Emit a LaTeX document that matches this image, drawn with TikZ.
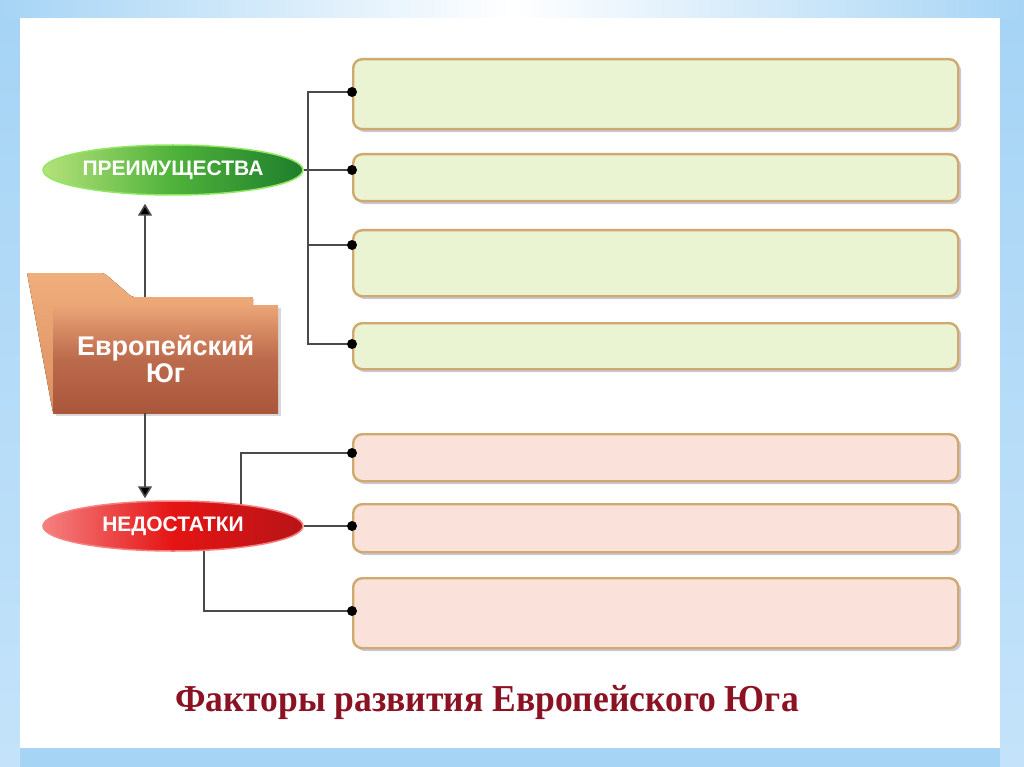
\documentclass[tikz,border=0pt]{standalone}
\usepackage{fontspec}
\setmainfont{Liberation Serif}
\setsansfont{Liberation Sans}
\usetikzlibrary{shapes.geometric,arrows.meta,shadows,calc}
\definecolor{frameblue}{HTML}{A6D4F5}
\definecolor{framelight}{HTML}{C4E3FA}
\definecolor{gfill}{HTML}{EAF3D2}
\definecolor{rfill}{HTML}{FAE1DA}
\definecolor{tan}{HTML}{CFA96E}
\definecolor{conn}{HTML}{4A4A4A}
\definecolor{titlered}{HTML}{8A1222}
\definecolor{gl}{HTML}{B4E27A}
\definecolor{gm}{HTML}{4FB23A}
\definecolor{gd}{HTML}{1E7E2C}
\definecolor{rl}{HTML}{F58080}
\definecolor{rm}{HTML}{E51414}
\definecolor{rd}{HTML}{B81418}
\definecolor{peach}{HTML}{F0AE7C}
\definecolor{peachd}{HTML}{DC8E5E}
\definecolor{brownl}{HTML}{EBA577}
\definecolor{brownm}{HTML}{BC6A4C}
\definecolor{brownd}{HTML}{A9563B}
\tikzset{
  box/.style={draw=tan, line width=2.4pt, rounded corners=9pt, anchor=north west,
    minimum width=605pt, inner sep=0pt,
    drop shadow={shadow xshift=3pt, shadow yshift=-3pt, opacity=0.35, fill=gray!80!blue}},
  gbox/.style={box, fill=gfill},
  rbox/.style={box, fill=rfill},
  oval/.style={ellipse, minimum width=260pt, minimum height=50pt, inner sep=0pt,
    text=white, font=\sffamily\bfseries\fontsize{21}{21}\selectfont},
  conline/.style={draw=conn, line width=1.6pt},
  dot/.style={circle, fill=black, inner sep=0pt, minimum size=10pt},
  arr/.style={draw=conn, line width=1.6pt, -{Triangle[width=14pt,length=12pt,fill=black]}},
}
\begin{document}
\begin{tikzpicture}[x=1pt,y=-1pt]
\useasboundingbox (0,0) rectangle (1024,767);
% frame
\fill[frameblue] (0,0) rectangle (1024,767);
\shade[top color=frameblue, bottom color=framelight] (0,18) rectangle (20,767);
\shade[top color=frameblue, bottom color=framelight] (1000,18) rectangle (1024,767);
\shade[left color=frameblue, right color=white, shading=axis] (0,0) rectangle (512,18);
\shade[left color=white, right color=frameblue, shading=axis] (512,0) rectangle (1024,18);
\fill[white] (20,18) rectangle (1000,748);

% right boxes
\node[gbox, minimum height=70pt] (g1) at (352,58) {};
\node[gbox, minimum height=47pt] (g2) at (352,153) {};
\node[gbox, minimum height=66pt] (g3) at (352,229) {};
\node[gbox, minimum height=46pt] (g4) at (352,322) {};
\node[rbox, minimum height=47pt] (r1) at (352,433) {};
\node[rbox, minimum height=48pt] (r2) at (352,503) {};
\node[rbox, minimum height=70pt] (r3) at (352,577) {};

% ovals
\node[oval, left color=gl, right color=gd, middle color=gm, draw=gl!80!green, line width=1.5pt] (pos) at (173,170) {ПРЕИМУЩЕСТВА};
\node[oval, left color=rl, right color=rd, middle color=rm, draw=rl, line width=1.5pt] (neg) at (173,526) {НЕДОСТАТКИ};

% folder
\fill[top color=peach, bottom color=peachd, rounded corners=2pt] (27,273) -- (104,273) -- (132,297) -- (253,297) -- (253,413) -- (53,413) -- cycle;
\node[draw=none, minimum width=225pt, minimum height=108pt, anchor=north west,
  top color=brownl, bottom color=brownd, middle color=brownm, shading angle=0,
  drop shadow={shadow xshift=3pt, shadow yshift=-3pt, opacity=0.3},
  text=white, align=center, font=\sffamily\bfseries\fontsize{27}{27}\selectfont] (folder) at (53,305) {Европейский\\Юг};

% connector coordinates
\coordinate (gx) at (308,0);
\coordinate (ax) at (145,0);
\coordinate (d1) at ($(g1.north west)+(0,34)$);
\coordinate (d2) at ($(g2.north west)+(0,17)$);
\coordinate (d3) at ($(g3.north west)+(0,16)$);
\coordinate (d4) at ($(g4.north west)+(0,22)$);
\coordinate (e1) at ($(r1.north west)+(0,20)$);
\coordinate (e2) at ($(r2.north west)+(0,24)$);
\coordinate (e3) at ($(r3.north west)+(0,34)$);

% green connectors
\draw[conline] (pos.east) -- (pos.east -| d2);
\draw[conline] (d1) -| (gx |- d4) -- (d4);
\draw[conline] (gx |- d3) -- (d3);
% red connectors
\draw[conline] (neg.18) |- (e1);
\draw[conline] (neg.east) -- (neg.east -| e2);
\draw[conline] (neg.-39) |- (e3);

% dots
\foreach \p in {d1,d3,d4,e1,e3} \node[dot] at (\p) {};
\node[dot] at (pos.east -| d2) {};
\node[dot] at (neg.east -| e2) {};

% arrows
\coordinate (ftop) at (145,297);
\draw[arr] (ftop) -- ($(pos.south -| ax)+(0,8)$);
\draw[arr] (folder.south -| ax) -- ($(neg.north -| ax)+(0,-2)$);

% title
\node[text=titlered, font=\bfseries\fontsize{38}{38}\selectfont] (title) at (487,702) {\scalebox{0.935}[1]{Факторы развития Европейского Юга}};
\end{tikzpicture}
\end{document}
